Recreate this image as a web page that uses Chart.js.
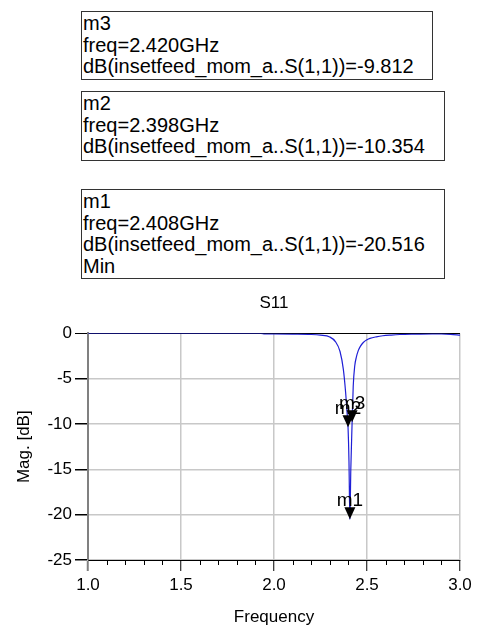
<!DOCTYPE html>
<html>
<head>
<meta charset="utf-8">
<script src="https://cdn.jsdelivr.net/npm/chart.js@4.4.1/dist/chart.umd.min.js"></script>
<style>
  html, body { margin: 0; padding: 0; background: #fff; }
  #wrap { position: relative; width: 479px; height: 632px; overflow: hidden; }
  canvas { position: absolute; left: 0; top: 0; }
  .mbox {
    position: absolute; box-sizing: border-box; border: 1px solid #333;
    font-family: "Liberation Sans", Arial, sans-serif; font-size: 20px; line-height: 21.7px;
    color: #000; padding: 1px 0 0 1px; white-space: nowrap; background: #fff;
  }
</style>
</head>
<body>
<div id="wrap">
  <canvas id="c" width="479" height="632"></canvas>
  <div class="mbox" style="left:81px;top:11px;width:352px;height:69px;">m3<br>freq=2.420GHz<br>dB(insetfeed_mom_a..S(1,1))=-9.812</div>
  <div class="mbox" style="left:81px;top:91px;width:364px;height:70px;">m2<br>freq=2.398GHz<br>dB(insetfeed_mom_a..S(1,1))=-10.354</div>
  <div class="mbox" style="left:81px;top:189px;width:364px;height:90px;">m1<br>freq=2.408GHz<br>dB(insetfeed_mom_a..S(1,1))=-20.516<br>Min</div>
</div>
<script>
// ---- data ----
const freqGHz = [1.0, 1.2, 1.4, 1.6, 1.8, 1.93, 1.95, 2.0, 2.1, 2.2, 2.25, 2.3, 2.33, 2.355, 2.373, 2.385, 2.392, 2.398, 2.403, 2.408, 2.413, 2.42, 2.426, 2.434, 2.443, 2.453, 2.465, 2.48, 2.5, 2.516, 2.55, 2.585, 2.63, 2.677, 2.75, 2.85, 2.9, 2.95, 3.0];
const s11dB   = [0, 0, 0, 0, 0, 0, -0.05, -0.06, -0.08, -0.12, -0.2, -0.4, -0.9, -2.0, -4.0, -6.5, -8.5, -10.354, -14.0, -20.516, -15.0, -9.812, -5.8, -3.6, -2.6, -1.9, -1.4, -1.0, -0.7, -0.55, -0.38, -0.26, -0.18, -0.12, -0.08, -0.05, -0.05, -0.1, -0.2];
const markerNames = ['m1', 'm2', 'm3'];
const markerFreq  = [2.408, 2.398, 2.420];
const markerDB    = [-20.516, -10.354, -9.812];
const xTickLabels = ['1.0', '1.5', '2.0', '2.5', '3.0'];
const yTickLabels = ['-25', '-20', '-15', '-10', '-5', '0'];

const FONT = '"Liberation Sans", Arial, sans-serif';
Chart.defaults.font.family = FONT;
Chart.defaults.color = '#000';

const markerPlugin = {
  id: 'markers',
  afterDraw(chart) {
    const ctx = chart.ctx, xs = chart.scales.x, ys = chart.scales.y;
    // minor ticks on x axis
    ctx.save();
    ctx.strokeStyle = '#000';
    ctx.lineWidth = 1;
    const bottom = chart.chartArea.bottom;
    for (let i = Math.round(xs.min * 10); i <= Math.round(xs.max * 10); i++) {
      if (i % 5 === 0) continue;
      const px = Math.round(xs.getPixelForValue(i / 10)) + 0.5;
      ctx.beginPath();
      ctx.moveTo(px, bottom);
      ctx.lineTo(px, bottom + 5);
      ctx.stroke();
    }
    // markers
    ctx.fillStyle = '#000';
    ctx.font = '19px ' + FONT;
    ctx.textAlign = 'center';
    ctx.textBaseline = 'alphabetic';
    markerNames.forEach((name, i) => {
      const px = xs.getPixelForValue(markerFreq[i]);
      const py = ys.getPixelForValue(markerDB[i]);
      ctx.beginPath();
      ctx.moveTo(px - 5.5, py - 12);
      ctx.lineTo(px + 5.5, py - 12);
      ctx.lineTo(px, py);
      ctx.closePath();
      ctx.fill();
      ctx.fillText(name, px, py - 13);
    });
    ctx.restore();
  }
};

new Chart(document.getElementById('c'), {
  type: 'line',
  data: {
    datasets: [{
      data: freqGHz.map((f, i) => ({ x: f, y: s11dB[i] })),
      borderColor: '#1f1fd6',
      borderWidth: 1.2,
      pointRadius: 0,
      cubicInterpolationMode: 'monotone',
      fill: false
    }]
  },
  options: {
    responsive: false,
    animation: false,
    layout: { padding: { top: 293, right: 19, left: 0, bottom: 0 } },
    plugins: {
      legend: { display: false },
      tooltip: { enabled: false },
      title: {
        display: true, text: 'S11', fullSize: false,
        font: { size: 17, weight: 'normal' }, color: '#000',
        padding: { top: 0, bottom: 20 }
      }
    },
    scales: {
      x: {
        type: 'linear', min: 1, max: 3,
        afterFit(s) { s.height = 72; },
        ticks: {
          stepSize: 0.5, padding: 4, maxRotation: 0,
          font: { size: 17 }, color: '#000',
          callback: (v) => xTickLabels.find(t => Math.abs(parseFloat(t) - v) < 1e-6) || ''
        },
        grid: {
          color: (c) => (c.tick && Math.abs(c.tick.value - 1) < 1e-6) ? 'rgba(0,0,0,0)' : '#c8c8c8',
          lineWidth: 1.5,
          tickColor: (c) => (c.tick && Math.abs(c.tick.value - 1) < 1e-6) ? '#808080' : '#000',
          tickWidth: (c) => (c.tick && Math.abs(c.tick.value - 1) < 1e-6) ? 2 : 1,
          tickLength: 11
        },
        border: { color: '#000', width: 1 },
        title: { display: true, text: 'Frequency', font: { size: 17 }, color: '#000', padding: { top: 4, bottom: 4 } }
      },
      y: {
        min: -25, max: 0,
        afterFit(s) { s.width = 88; },
        ticks: {
          stepSize: 5, padding: 3,
          font: { size: 17 }, color: '#000',
          callback: (v) => yTickLabels.find(t => parseFloat(t) === v) || ''
        },
        grid: {
          color: (c) => (c.tick && c.tick.value === 0) ? '#000' : '#c8c8c8',
          lineWidth: (c) => (c.tick && c.tick.value === 0) ? 1 : 1.5,
          tickColor: '#000',
          tickLength: 13
        },
        border: { color: '#808080', width: 2 },
        title: { display: true, text: 'Mag. [dB]', font: { size: 17 }, color: '#000', padding: { top: 14, bottom: 4 } }
      }
    }
  },
  plugins: [markerPlugin]
});
</script>
</body>
</html>
